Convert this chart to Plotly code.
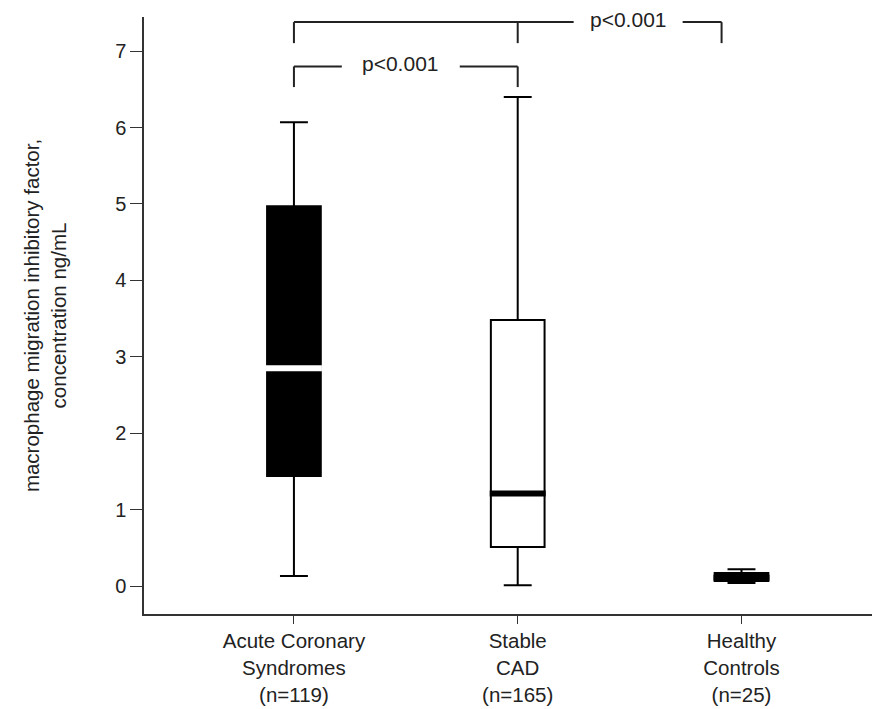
import plotly.graph_objects as go

categories = ["Acute Coronary<br>Syndromes<br>(n=119)", "Stable<br>CAD<br>(n=165)", "Healthy<br>Controls<br>(n=25)"]
lower_whisker = [0.13, 0.01, 0.04]
q1 = [1.44, 0.51, 0.065]
median = [2.85, 1.21, 0.11]
q3 = [4.97, 3.48, 0.17]
upper_whisker = [6.07, 6.40, 0.22]
fill_colors = ["black", "white", "black"]
median_colors = ["white", "black", "black"]
p_labels = ["p<0.001", "p<0.001"]

xpos = [0, 1, 2]
box_w = 0.24

fig = go.Figure()
for i in range(3):
    fig.add_trace(go.Box(
        x=[xpos[i]], q1=[q1[i]], median=[median[i]], q3=[q3[i]],
        lowerfence=[lower_whisker[i]], upperfence=[upper_whisker[i]],
        width=box_w, whiskerwidth=0.52,
        fillcolor=fill_colors[i], line=dict(color="black", width=2),
        boxpoints=False, showlegend=False, hoverinfo="skip",
    ))
    fig.add_shape(type="line", xref="x", yref="y",
                  x0=xpos[i] - box_w / 2 - 0.005, x1=xpos[i] + box_w / 2 + 0.005,
                  y0=median[i], y1=median[i],
                  line=dict(color=median_colors[i], width=6))

line_style = dict(color="#222", width=2)
y_top, y_top_drop = 7.38, 7.105
y_low, y_low_drop = 6.80, 6.53
segs = [
    (0, y_top_drop, 0, y_top), (0, y_top, 1.25, y_top), (1, y_top, 1, y_top_drop),
    (1.737, y_top, 1.911, y_top), (1.911, y_top, 1.911, y_top_drop),
    (0, y_low_drop, 0, y_low), (0, y_low, 0.214, y_low),
    (0.741, y_low, 1, y_low), (1, y_low, 1, y_low_drop),
]
for x0, y0, x1, y1 in segs:
    fig.add_shape(type="line", xref="x", yref="y", x0=x0, y0=y0, x1=x1, y1=y1, line=line_style)

fig.add_annotation(x=1.494, y=y_top, text=p_labels[0], showarrow=False,
                   font=dict(size=21, color="#222"), yshift=3)
fig.add_annotation(x=0.478, y=y_low, text=p_labels[1], showarrow=False,
                   font=dict(size=21, color="#222"), yshift=3)

fig.update_layout(
    width=880, height=709,
    margin=dict(l=136, r=10, t=9, b=103),
    paper_bgcolor="white", plot_bgcolor="white",
    font=dict(family="Liberation Sans, Arial, sans-serif", color="#222"),
    xaxis=dict(
        range=[-0.67, 2.61], tickvals=xpos, ticktext=categories,
        showgrid=False, zeroline=False, showline=True, linecolor="#333", linewidth=1.5,
        ticks="outside", ticklen=8, tickcolor="#333", tickfont=dict(size=20.5),
    ),
    yaxis=dict(
        range=[-0.366, 7.447], tickvals=[0, 1, 2, 3, 4, 5, 6, 7],
        showgrid=False, zeroline=False, showline=True, linecolor="#333", linewidth=1.5,
        ticks="outside", ticklen=12, tickcolor="#333", tickfont=dict(size=20),
        title=dict(text="macrophage migration inhibitory factor,<br>concentration ng/mL",
                   font=dict(size=20.5), standoff=43),
    ),
)

fig.write_html("out.html")
